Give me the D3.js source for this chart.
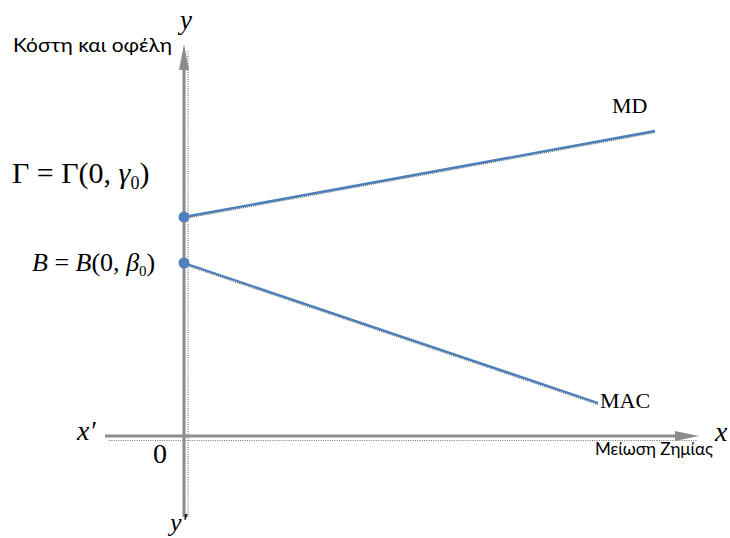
<!DOCTYPE html>
<html><head><meta charset="utf-8">
<script src="https://cdn.jsdelivr.net/npm/d3@7"></script>
<style>html,body{margin:0;padding:0;background:#fff;}svg{display:block;}</style>
</head><body>
<svg id="c" width="730" height="538"></svg>
<script>
// Data (abstract units)
const xAxisRange = [-15.8, 103];     // x' ... x
const yAxisRange = [-20, 98.25];     // y' ... y
const gamma0 = 55;                   // intercept of MD
const beta0 = 43.5;                  // intercept of MAC
const mdLine = [[0, gamma0], [94.2, 76.5]];
const macLine = [[0, beta0], [82.8, 8.5]];
const points = [[0, gamma0], [0, beta0]];
const lineNames = ["MD", "MAC"];

const svg = d3.select("#c");
const x = d3.scaleLinear().domain([0, 100]).range([184, 684]);
const y = d3.scaleLinear().domain([0, 100]).range([437, 37]);

const grey = "#8c8c8c";
const blue = "#4a7ebb";

// axes: dotted shadows
svg.append("line").attr("x1", x(xAxisRange[0]) + 4).attr("x2", x(xAxisRange[1]) - 2)
  .attr("y1", y(0) + 3.5).attr("y2", y(0) + 3.5)
  .attr("stroke", "#777").attr("stroke-width", 1.2).attr("stroke-dasharray", "1,1.3");
svg.append("line").attr("y1", y(yAxisRange[0])).attr("y2", y(yAxisRange[1]) + 6)
  .attr("x1", x(0) + 4).attr("x2", x(0) + 4)
  .attr("stroke", "#777").attr("stroke-width", 1.2).attr("stroke-dasharray", "1,1.3");

// axes main
svg.append("line").attr("x1", x(xAxisRange[0])).attr("x2", x(xAxisRange[1]) - 20)
  .attr("y1", y(0) - 1).attr("y2", y(0) - 1).attr("stroke", grey).attr("stroke-width", 3);
svg.append("line").attr("y1", y(yAxisRange[0])).attr("y2", y(yAxisRange[1]) + 20)
  .attr("x1", x(0)).attr("x2", x(0)).attr("stroke", grey).attr("stroke-width", 3);

// arrowheads
const xt = x(xAxisRange[1]), yt = y(0) - 1;
svg.append("path").attr("d", `M${xt},${yt} L${xt - 24},${yt - 5} L${xt - 24},${yt + 5} Z`).attr("fill", grey);
const yx = x(0), ytop = y(yAxisRange[1]);
svg.append("path").attr("d", `M${yx},${ytop} L${yx - 5},${ytop + 26} L${yx + 5},${ytop + 26} Z`).attr("fill", grey);

// lines
const lg = d3.line().x(d => x(d[0])).y(d => y(d[1]));
[mdLine, macLine].forEach(L => {
  svg.append("path").attr("d", lg(L)).attr("transform", "translate(0,1.5)")
    .attr("fill", "none").attr("stroke", "#666").attr("stroke-width", 1.3).attr("stroke-dasharray", "1,1");
  svg.append("path").attr("d", lg(L)).attr("fill", "none").attr("stroke", blue).attr("stroke-width", 2.3);
});

// points
svg.selectAll("circle.pt").data(points).enter().append("circle")
  .attr("cx", d => x(d[0])).attr("cy", d => y(d[1])).attr("r", 5.5).attr("fill", "#4f81bd");

// text
const serif = "'Liberation Serif', 'DejaVu Serif', serif";
const sans = "Lato, 'Open Sans', sans-serif";
function t(txt, xx, yy, size, fam, style) {
  return svg.append("text").attr("x", xx).attr("y", yy).attr("font-size", size)
    .attr("font-family", fam).attr("font-style", style || "normal").attr("fill", "#000").text(txt);
}
const k = t("Κόστη και οφέλη", 13, 52, 19, sans);
k.attr("textLength", 159).attr("lengthAdjust", "spacingAndGlyphs");
t("y", 180, 29, 27, serif, "italic");
t("x", 715, 441, 28, serif, "italic");
t("x′", 77, 440, 28, serif, "italic");
t("y′", 170, 531, 26, serif, "italic");
t("0", 153, 463, 28, serif);
t(lineNames[0], x(mdLine[1][0]) - 43, 113, 22, serif);
t(lineNames[1], x(macLine[1][0]) + 2, 408, 22, serif);
const m = t("Μείωση Ζημίας", 595, 455, 17, sans);
m.attr("textLength", 118).attr("lengthAdjust", "spacingAndGlyphs");

// Γ label
const g1 = svg.append("text").attr("x", 12).attr("y", 183).attr("font-family", serif).attr("font-size", 30).attr("fill", "#000");
g1.append("tspan").text("Γ = Γ(0, ");
g1.append("tspan").attr("font-style", "italic").text("γ");
g1.append("tspan").attr("font-size", 18).attr("dy", 6).text("0");
g1.append("tspan").attr("dy", -6).text(")");

// B label
const g2 = svg.append("text").attr("x", 32).attr("y", 271).attr("font-family", serif).attr("font-size", 26).attr("fill", "#000");
g2.append("tspan").attr("font-style", "italic").text("B");
g2.append("tspan").text(" = ");
g2.append("tspan").attr("font-style", "italic").text("B");
g2.append("tspan").text("(0, ");
g2.append("tspan").attr("font-style", "italic").text("β");
g2.append("tspan").attr("font-size", 15).attr("dy", 5).text("0");
g2.append("tspan").attr("dy", -5).text(")");
</script>
</body></html>
